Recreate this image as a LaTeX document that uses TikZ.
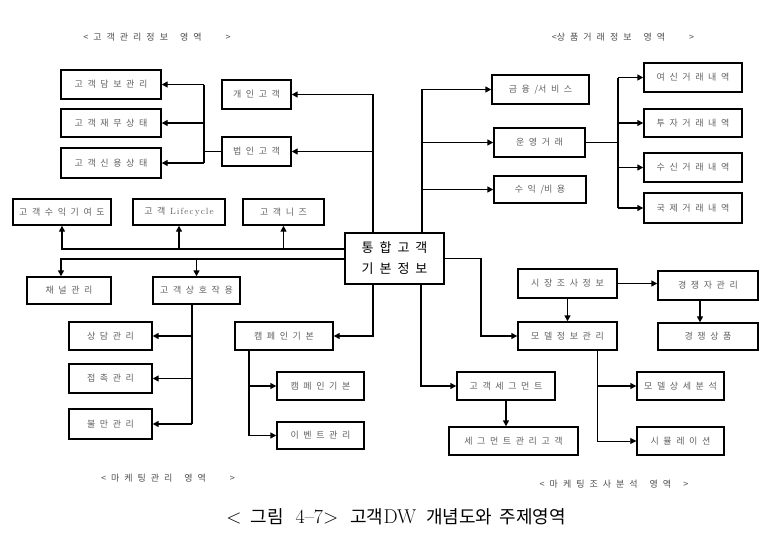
\documentclass[tikz,border=0pt]{standalone}
\usepackage{fontspec}
\newfontfamily\kr{Noto Sans CJK KR}
\newfontfamily\lat[LetterSpace=12]{Latin Modern Roman}
\newcommand{\gp}{\hspace{12pt}}
\newcommand{\kc}[1]{{\kr\fontsize{18}{21}\selectfont #1}}
\newcommand{\bxfont}{\kr\fontsize{9}{10}\selectfont\spaceskip 4.6pt plus 1pt\relax}
\newcommand{\tlfont}{\kr\fontsize{9}{10}\selectfont\spaceskip 5pt plus 1pt\relax}
\newcommand{\ctfont}{\kr\fontsize{13}{21}\selectfont\spaceskip 6pt\relax}
\usetikzlibrary{arrows.meta,calc}
\tikzset{
  box/.style={draw, line width=1.4pt, inner sep=0pt, font=\bxfont, text=black!62},
  conn/.style={line width=1.4pt},
  arr/.style={line width=1.4pt, -{Triangle[length=6pt,width=6pt]}},
  arrthin/.style={line width=0.7pt, -{Triangle[length=6pt,width=6pt]}},
  ttl/.style={font=\tlfont, text=black!70},
}
\begin{document}
\begin{tikzpicture}[x=1pt,y=-1pt]
\useasboundingbox (0,0) rectangle (780,549);
% titles
\node[ttl] (t1) at (157,37) {< 고 객 관 리 정 보\gp 영 역\gp\gp >};
\node[ttl] (t2) at (623,37) {<상 품 거 래 정 보\gp 영 역\gp\gp >};
\node[ttl] (t3) at (168,478) {< 마 케 팅 관 리\gp 영 역\gp\gp >};
\node[ttl] (t4) at (614,484) {< 마 케 팅 조 사 분 석\gp 영 역\gp >};
% center
\node[draw, line width=1.6pt, minimum width=99pt, minimum height=51pt, align=center,
  font=\ctfont] (center) at (394.5,258.5) {통 합 고 객\\기 본 정 보};
% customer management area
\node[box, minimum width=100pt, minimum height=29pt] (dambo) at (111,84.5) {고 객 담 보 관 리};
\node[box, minimum width=100pt, minimum height=28pt] (jaemu) at (111,123) {고 객 재 무 상 태};
\node[box, minimum width=100pt, minimum height=30pt] (sinyong) at (111,163) {고 객 신 용 상 태};
\node[box, minimum width=69pt, minimum height=29pt] (gaein) at (256.5,94.5) {개 인 고 객};
\node[box, minimum width=69pt, minimum height=29pt] (beobin) at (256.5,151.5) {법 인 고 객};
\node[box, minimum width=98pt, minimum height=26pt] (suik) at (62,212) {고 객 수 익 기 여 도};
\node[box, minimum width=92pt, minimum height=26pt] (life) at (179,212) {고 객 {\lat\fontsize{9}{10}\selectfont Lifecycle}};
\node[box, minimum width=81pt, minimum height=26pt] (needs) at (283.5,212) {고 객 니 즈};
% marketing management area
\node[box, minimum width=84pt, minimum height=27pt] (channel) at (69,290.5) {채 널 관 리};
\node[box, minimum width=87pt, minimum height=27pt] (interact) at (196.5,290.5) {고 객 상 호 작 용};
\node[box, minimum width=83pt, minimum height=28pt] (sangdam) at (110.5,336) {상 담 관 리};
\node[box, minimum width=83pt, minimum height=29pt] (jeopchok) at (110.5,378.5) {접 촉 관 리};
\node[box, minimum width=83pt, minimum height=30pt] (bulman) at (110.5,424) {불 만 관 리};
\node[box, minimum width=98pt, minimum height=28pt] (camp1) at (284,336) {캠 페 인 기 본};
\node[box, minimum width=87pt, minimum height=28pt] (camp2) at (320.5,386) {캠 페 인 기 본};
\node[box, minimum width=87pt, minimum height=27pt] (event) at (320.5,435.5) {이 벤 트 관 리};
% product transaction area
\node[box, minimum width=97pt, minimum height=29pt] (finance) at (540.5,89.5) {금 융 /서 비 스};
\node[box, minimum width=91pt, minimum height=29pt] (opertx) at (539.5,142.5) {운 영 거 래};
\node[box, minimum width=92pt, minimum height=27pt] (profit) at (540,189.5) {수 익 /비 용};
\node[box, minimum width=98pt, minimum height=29pt] (yeosin) at (693,77.5) {여 신 거 래 내 역};
\node[box, minimum width=98pt, minimum height=28pt] (tuja) at (693,123) {투 자 거 래 내 역};
\node[box, minimum width=98pt, minimum height=29pt] (susin) at (693,167.5) {수 신 거 래 내 역};
\node[box, minimum width=98pt, minimum height=30pt] (intl) at (693,208) {국 제 거 래 내 역};
% marketing research area
\node[box, minimum width=99pt, minimum height=29pt] (market) at (567.5,283.5) {시 장 조 사 정 보};
\node[box, minimum width=100pt, minimum height=29pt] (competitor) at (708,285.5) {경 쟁 자 관 리};
\node[box, minimum width=99pt, minimum height=28pt] (model) at (567.5,336) {모 델 정 보 관 리};
\node[box, minimum width=100pt, minimum height=27pt] (compprod) at (708,336.5) {경 쟁 상 품};
\node[box, minimum width=87pt, minimum height=28pt] (modeldetail) at (680.5,386) {모 델 상 세 분 석};
\node[box, minimum width=87pt, minimum height=28pt] (simul) at (680.5,441) {시 뮬 레 이 션};
\node[box, minimum width=98pt, minimum height=28pt] (segment) at (506,386) {고 객 세 그 먼 트};
\node[box, minimum width=129pt, minimum height=28pt] (segcust) at (513.5,441) {세 그 먼 트 관 리 고 객};
% caption
\node (caption) at (396,517) {\fontsize{20}{22}\selectfont <\hspace{9pt}\kc{그림}\hspace{12pt}4--7>\hspace{12pt}\kc{고객}DW\hspace{10pt}\kc{개념도와}\hspace{7pt}\kc{주제영역}};
% bus coordinates
\coordinate (bL) at (204,0);
\coordinate (cT1) at (373,0);
\coordinate (cT2) at (422,0);
\coordinate (cL1) at (0,249);
\coordinate (cL2) at (0,259);
\coordinate (bI) at (192,0);
\coordinate (bC) at (249,0);
\coordinate (bO) at (618,0);
\coordinate (bR) at (481,0);
\coordinate (bS) at (421,0);
\coordinate (bM) at (597,0);
\coordinate (chIn) at (61,0);
\coordinate (cpIn) at (700,0);
% center -> customer
\draw[arr] (center.north -| cT1) |- (gaein.east);
\draw[arr] (center.north -| cT1) |- (beobin.east);
\draw[conn] (beobin.west) -- (beobin.west -| bL);
\draw[conn] (dambo.east -| bL) -- (sinyong.east -| bL);
\draw[arr] (dambo.east -| bL) -- (dambo.east);
\draw[arr] (jaemu.east -| bL) -- (jaemu.east);
\draw[arr] (sinyong.east -| bL) -- (sinyong.east);
\draw[arr] (center.west |- cL1) -| (suik.south);
\draw[arr] (cL1 -| life.south) -- (life.south);
\draw[arr] (cL1 -| needs.south) -- (needs.south);
% center -> marketing management
\draw[arr] (center.west |- cL2) -| (channel.north -| chIn);
\draw[arr] (cL2 -| interact.north) -- (interact.north);
\draw[conn] (interact.south -| bI) -- (bulman.east -| bI);
\draw[arr] (sangdam.east -| bI) -- (sangdam.east);
\draw[arr] (jeopchok.east -| bI) -- (jeopchok.east);
\draw[arr] (bulman.east -| bI) -- (bulman.east);
\draw[arr] (center.south -| cT1) |- (camp1.east);
\draw[arr] (camp1.south -| bC) |- (event.west);
\draw[arr] (camp2.west -| bC) -- (camp2.west);
% center -> product
\draw[arr] (center.north -| cT2) |- (finance.west);
\draw[arr] (opertx.west -| cT2) -- (opertx.west);
\draw[arr] (profit.west -| cT2) -- (profit.west);
\draw[conn] (opertx.east) -- (opertx.east -| bO);
\draw[conn] (yeosin.west -| bO) -- (intl.west -| bO);
\draw[arr] (yeosin.west -| bO) -- (yeosin.west);
\draw[arr] (tuja.west -| bO) -- (tuja.west);
\draw[arr] (susin.west -| bO) -- (susin.west);
\draw[arr] (intl.west -| bO) -- (intl.west);
% center -> research
\draw[arr] (center.east) -- (center.east -| bR) -- (model.west -| bR) -- (model.west);
\draw[arr] (center.south -| bS) |- (segment.west);
\draw[arr] (segment.south) -- (segment.south |- segcust.north);
\draw[arr] (market.east) -- (market.east -| competitor.west);
\draw[arr] (market.south) -- (model.north);
\draw[arr] (competitor.south -| cpIn) -- (compprod.north -| cpIn);
\draw[arrthin] (model.south -| bM) |- (simul.west);
\draw[arr] (modeldetail.west -| bM) -- (modeldetail.west);
\end{tikzpicture}
\end{document}
